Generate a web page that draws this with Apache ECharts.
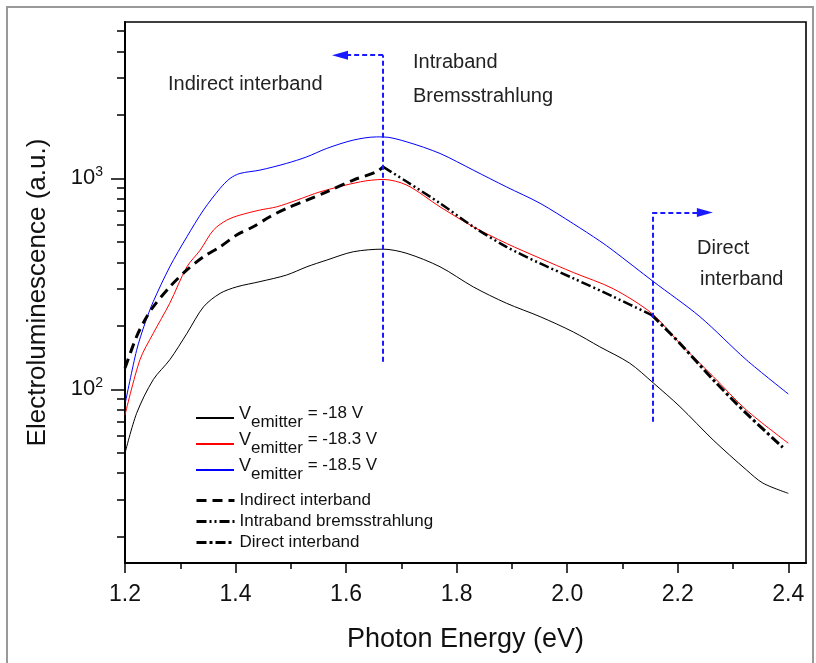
<!DOCTYPE html>
<html>
<head>
<meta charset="utf-8">
<style>
  html, body { margin: 0; padding: 0; background: #fff; }
  #main { width: 816px; height: 663px; }
</style>
<script src="https://cdn.jsdelivr.net/npm/echarts@6/dist/echarts.min.js"></script>
</head>
<body>
<div id="main"></div>
<script>
// electroluminescence spectra (photon energy in eV, intensity a.u.)
var eBlack = [1.200, 1.221, 1.251, 1.281, 1.312, 1.342, 1.372, 1.402, 1.444, 1.492, 1.529, 1.565, 1.613, 1.667, 1.710, 1.770, 1.830, 1.890, 1.951, 2.011, 2.059, 2.113, 2.156, 2.204, 2.264, 2.324, 2.354, 2.400];
var vBlack = [49.7, 76.9, 111, 138, 184, 246, 285, 306, 324, 348, 381, 410, 449, 462, 441, 381, 306, 256, 221, 187, 159, 133, 107, 82.7, 57.5, 41.5, 35.9, 32.1];

var eRed = [1.200, 1.227, 1.251, 1.281, 1.312, 1.336, 1.360, 1.384, 1.408, 1.444, 1.474, 1.511, 1.553, 1.626, 1.667, 1.710, 1.770, 1.830, 1.890, 1.951, 2.011, 2.083, 2.153, 2.204, 2.264, 2.324, 2.400];
var vRed = [75.5, 138, 184, 256, 381, 457, 569, 634, 670, 708, 733, 789, 864, 964, 989, 929, 733, 590, 492, 418, 358, 300, 229, 165, 115, 79.8, 55.5];

var eBlue = [1.201, 1.221, 1.236, 1.251, 1.281, 1.312, 1.342, 1.372, 1.390, 1.408, 1.444, 1.492, 1.529, 1.565, 1.613, 1.655, 1.667, 1.710, 1.770, 1.830, 1.890, 1.951, 2.011, 2.059, 2.083, 2.156, 2.240, 2.324, 2.400];
var vBlue = [87.3, 153, 205, 260, 381, 529, 708, 897, 1000, 1056, 1095, 1178, 1266, 1388, 1520, 1574, 1574, 1490, 1313, 1095, 912, 762, 610, 505, 455, 324, 221, 138, 95];

// fitted components
var eIndirect = [1.200, 1.221, 1.236, 1.251, 1.281, 1.312, 1.342, 1.372, 1.402, 1.432, 1.462, 1.492, 1.529, 1.565, 1.613, 1.655, 1.667];
var vIndirect = [126, 178, 213, 246, 306, 368, 425, 474, 539, 590, 658, 721, 789, 864, 982, 1075, 1135];

var eIntra = [1.667, 1.710, 1.770, 1.830, 1.890, 1.951, 2.011, 2.083, 2.153];
var vIntra = [1135, 964, 762, 590, 474, 395, 336, 275, 225];

var eDirect = [2.153, 2.204, 2.264, 2.324, 2.390];
var vDirect = [225, 165, 111, 76.9, 53];

// axis ticks
var xLabels = [1.2, 1.4, 1.6, 1.8, 2.0, 2.2, 2.4];
var xMinor = [1.3, 1.5, 1.7, 1.9, 2.1, 2.3];
var yLabels = [100, 1000];
var yMinor = [20, 30, 40, 50, 60, 70, 80, 90, 200, 300, 400, 500, 600, 700, 800, 900, 2000, 3000, 4000, 5000];

function zip(xs, ys) {
  return xs.map(function (x, i) { return [x, ys[i]]; });
}

var FONT = 'Liberation Sans, Arial, sans-serif';
var chart = echarts.init(document.getElementById('main'));

var gridRect = { left: 125, top: 22, width: 681, height: 541 };

function lineSeries(name, data, color, width, type) {
  return {
    name: name,
    type: 'line',
    data: data,
    symbol: 'none',
    smooth: 0.3,
    xAxisIndex: 0,
    yAxisIndex: 0,
    lineStyle: { color: color, width: width, type: type },
    itemStyle: { color: color },
    z: 3
  };
}

var legendText = {
  fontFamily: FONT,
  fontSize: 17,
  color: '#111',
  rich: {
    v: { fontFamily: FONT, fontSize: 18, lineHeight: 20, verticalAlign: 'top', color: '#111' },
    sub: { fontFamily: FONT, fontSize: 17, lineHeight: 20, verticalAlign: 'bottom', color: '#111' },
    t: { fontFamily: FONT, fontSize: 17, lineHeight: 20, verticalAlign: 'top', color: '#111' },
    pad: { lineHeight: 26, fontSize: 1 }
  }
};

var annoStyle = { color: '#1a1aff', width: 2, type: [5, 3] };

chart.setOption({
  animation: false,
  backgroundColor: '#fff',
  grid: [
    Object.assign({ show: true, borderColor: '#000', borderWidth: 1.6, backgroundColor: 'transparent' }, gridRect),
    Object.assign({ show: false }, gridRect)
  ],
  xAxis: [{
    type: 'value',
    gridIndex: 0,
    min: 1.2,
    max: 2.432,
    name: 'Photon Energy (eV)',
    nameLocation: 'middle',
    nameGap: 63,
    nameTextStyle: { fontFamily: FONT, fontSize: 27, color: '#111' },
    axisLine: { lineStyle: { color: '#000', width: 2 } },
    axisTick: { show: true, inside: false, length: 6, customValues: xMinor, lineStyle: { color: '#000', width: 1.5 } },
    axisLabel: {
      customValues: xLabels, margin: 20, fontFamily: FONT, fontSize: 23, color: '#111',
      formatter: function (v) { return v.toFixed(1); }
    },
    splitLine: { show: false }
  }, {
    type: 'value',
    gridIndex: 1,
    min: 1.2,
    max: 2.432,
    axisLine: { show: false },
    axisTick: { show: true, inside: false, length: 10, customValues: xLabels, lineStyle: { color: '#000', width: 1.5 } },
    axisLabel: { show: false },
    splitLine: { show: false }
  }],
  yAxis: [{
    type: 'log',
    gridIndex: 0,
    min: 15,
    max: 5520,
    name: 'Electroluminescence (a.u.)',
    nameLocation: 'middle',
    nameGap: 74,
    nameTextStyle: { fontFamily: FONT, fontSize: 26, color: '#111' },
    axisLine: { show: true, lineStyle: { color: '#000', width: 2 } },
    axisTick: { show: true, inside: false, length: 8, customValues: yMinor, lineStyle: { color: '#000', width: 1.5 } },
    axisLabel: {
      customValues: yLabels, margin: 22, color: '#111',
      formatter: function (v) { return '{b|10}{s|' + Math.round(Math.log10(v)) + '}'; },
      rich: {
        b: { fontFamily: FONT, fontSize: 22, lineHeight: 26, color: '#111' },
        s: { fontFamily: FONT, fontSize: 14, lineHeight: 14, verticalAlign: 'top', color: '#111' }
      }
    },
    splitLine: { show: false }
  }, {
    type: 'log',
    gridIndex: 1,
    min: 15,
    max: 5520,
    axisLine: { show: false },
    axisTick: { show: true, inside: false, length: 14, customValues: yLabels, lineStyle: { color: '#000', width: 1.5 } },
    axisLabel: { show: false },
    splitLine: { show: false }
  }],
  legend: [{
    orient: 'vertical',
    left: 195,
    top: 405,
    padding: 0,
    itemGap: 0,
    itemWidth: 38,
    itemHeight: 14,
    itemStyle: { opacity: 0 },
    data: ['Vemitter = -18 V', 'Vemitter = -18.3 V', 'Vemitter = -18.5 V'],
    formatter: function (name) {
      return '{v|V}{sub|emitter}{t|' + name.replace('Vemitter', '') + '}{pad| }';
    },
    textStyle: legendText
  }, {
    orient: 'vertical',
    left: 195,
    top: 490,
    padding: 0,
    itemGap: 0,
    itemWidth: 38,
    itemHeight: 14,
    itemStyle: { opacity: 0 },
    lineStyle: { width: 3 },
    data: ['Indirect interband', 'Intraband bremsstrahlung', 'Direct interband'],
    textStyle: { fontFamily: FONT, fontSize: 17, lineHeight: 21, color: '#111' }
  }],
  graphic: [
    { type: 'rect', silent: true, z: -10, shape: { x: 7, y: 7, width: 806, height: 700 }, style: { fill: 'none', stroke: '#999', lineWidth: 2 } },
    { type: 'text', left: 168, top: 74, style: { text: 'Indirect interband', font: '20px ' + FONT, fill: '#222' } },
    { type: 'text', left: 413, top: 52, style: { text: 'Intraband', font: '20px ' + FONT, fill: '#222' } },
    { type: 'text', left: 413, top: 86, style: { text: 'Bremsstrahlung', font: '20px ' + FONT, fill: '#222' } },
    { type: 'text', left: 697, top: 238, style: { text: 'Direct', font: '20px ' + FONT, fill: '#222' } },
    { type: 'text', left: 700, top: 269, style: { text: 'interband', font: '20px ' + FONT, fill: '#222' } }
  ],
  series: [
    lineSeries('Vemitter = -18 V', zip(eBlack, vBlack), '#000000', 1, 'solid'),
    lineSeries('Vemitter = -18.3 V', zip(eRed, vRed), '#ff0000', 1, 'solid'),
    lineSeries('Vemitter = -18.5 V', zip(eBlue, vBlue), '#0000ff', 1, 'solid'),
    lineSeries('Indirect interband', zip(eIndirect, vIndirect), '#000000', 3, [10, 6]),
    lineSeries('Intraband bremsstrahlung', zip(eIntra, vIntra), '#000000', 2.5, [10, 3, 2, 3, 2, 3]),
    lineSeries('Direct interband', zip(eDirect, vDirect), '#000000', 3, [10, 3, 3, 3]),
    {
      // blue region markers with arrows
      name: 'regions',
      type: 'line',
      data: [],
      xAxisIndex: 0,
      yAxisIndex: 0,
      markLine: {
        silent: true,
        symbol: 'none',
        label: { show: false },
        lineStyle: annoStyle,
        data: [
          [{ coord: [1.667, 135] }, { coord: [1.667, 3841] }],
          [{ coord: [1.667, 3841], symbol: 'none' }, { coord: [1.589, 3841], symbol: 'triangle', symbolSize: [9, 16] }],
          [{ coord: [2.154, 70.2] }, { coord: [2.154, 690] }],
          [{ coord: [2.154, 690], symbol: 'none' }, { coord: [2.249, 690], symbol: 'triangle', symbolSize: [9, 16] }]
        ]
      },
      z: 2
    }
  ]
});
</script>
</body>
</html>
